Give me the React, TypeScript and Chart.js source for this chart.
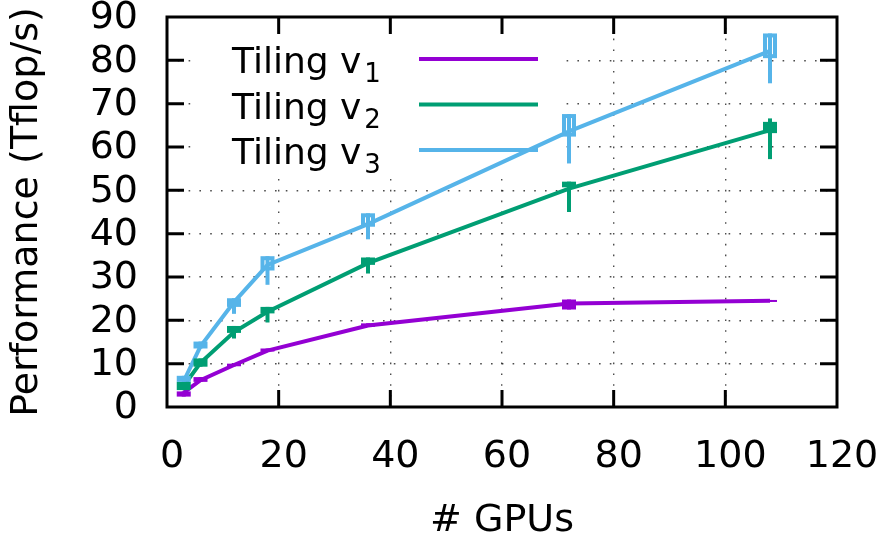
import React, { useEffect, useRef } from 'react';
import { Chart, registerables } from 'chart.js';

Chart.register(...registerables);

// ---- data ----
const gpus = [3, 6, 12, 18, 36, 72, 108];

const v1Perf = [3.3, 6.2, 9.7, 13.0, 18.8, 23.9, 24.5];
const v1Min = [2.4, 5.8, 9.4, 12.8, 18.5, 22.5, 24.3];
const v1BoxLow = [2.4, 5.8, 9.4, 12.8, 18.5, 22.5, 24.3];
const v1BoxHigh = [3.6, 6.9, 10.0, 13.5, 19.3, 24.8, 24.7];
const v1Max = [3.6, 6.9, 10.0, 13.5, 19.3, 24.8, 24.7];

const v2Perf = [4.9, 10.2, 17.3, 22.0, 33.2, 50.4, 63.9];
const v2Min = [3.9, 9.3, 15.8, 19.5, 30.8, 45.0, 57.2];
const v2BoxLow = [3.9, 9.3, 17.1, 21.6, 32.8, 50.7, 63.2];
const v2BoxHigh = [5.8, 11.2, 18.7, 23.1, 34.5, 52.0, 65.8];
const v2Max = [5.8, 11.2, 18.7, 23.1, 34.5, 52.0, 66.6];

const v3Perf = [6.0, 14.0, 24.2, 32.8, 42.2, 63.6, 82.2];
const v3Min = [5.8, 13.5, 21.5, 28.2, 38.7, 56.2, 74.7];
const v3BoxLow = [5.8, 13.5, 23.1, 31.5, 41.6, 62.4, 80.5];
const v3BoxHigh = [7.2, 15.1, 25.1, 34.8, 44.7, 67.6, 86.2];
const v3Max = [7.2, 15.1, 25.1, 34.8, 44.7, 67.6, 86.2];

const legendText = 'Tiling v';
const legendSubs = ['1', '2', '3'];
const xTitle = '# GPUs';
const yTitle = 'Performance (Tflop/s)';
const xMin = 0, xMax = 120, xStep = 20;
const yMin = 0, yMax = 90, yStep = 10;

// ---- style ----
const FONT = '"DejaVu Sans", sans-serif';
const COLORS = ['#9400d3', '#009e73', '#56b4e9'];

const series = [
  { perf: v1Perf, min: v1Min, bl: v1BoxLow, bh: v1BoxHigh, max: v1Max },
  { perf: v2Perf, min: v2Min, bl: v2BoxLow, bh: v2BoxHigh, max: v2Max },
  { perf: v3Perf, min: v3Min, bl: v3BoxLow, bh: v3BoxHigh, max: v3Max },
];

const framePlugin = {
  id: 'gnuFrame',
  beforeDatasetsDraw(chart: any) {
    const { ctx, chartArea: a } = chart;
    ctx.save();
    // opaque key box
    ctx.fillStyle = '#ffffff';
    ctx.fillRect(a.left + 25, a.top + 2, 369, 158);
    // key entries
    series.forEach((_, i) => {
      const ly = a.top + 42 + i * 45.5;
      ctx.fillStyle = '#000';
      ctx.textBaseline = 'alphabetic';
      ctx.textAlign = 'left';
      ctx.font = `36px ${FONT}`;
      const tx = a.left + 65;
      ctx.fillText(legendText, tx, ly + 14);
      const w = ctx.measureText(legendText).width;
      ctx.font = `26px ${FONT}`;
      ctx.fillText(legendSubs[i], tx + w + 3, ly + 23);
      ctx.strokeStyle = COLORS[i];
      ctx.lineWidth = 4;
      ctx.beginPath();
      ctx.moveTo(a.left + 252, ly);
      ctx.lineTo(a.left + 371, ly);
      ctx.stroke();
    });
    ctx.restore();
  },
  afterDatasetsDraw(chart: any) {
    const { ctx, chartArea: a } = chart;
    const xs = chart.scales.x;
    const ys = chart.scales.y;
    ctx.save();
    // candlestick boxes + whiskers
    series.forEach((s, i) => {
      ctx.strokeStyle = COLORS[i];
      ctx.fillStyle = COLORS[i];
      gpus.forEach((g, j) => {
        const px = xs.getPixelForValue(g);
        const yLo = ys.getPixelForValue(s.min[j]);
        const yHi = ys.getPixelForValue(s.max[j]);
        ctx.lineWidth = 4;
        ctx.lineCap = 'butt';
        ctx.beginPath();
        ctx.moveTo(px, yLo);
        ctx.lineTo(px, yHi);
        ctx.stroke();
        const b0 = ys.getPixelForValue(s.bh[j]);
        const b1 = ys.getPixelForValue(s.bl[j]);
        const hw = 7;
        const lw = 4;
        if (b1 - b0 <= 12) {
          ctx.fillRect(px - hw, b0, 2 * hw, Math.max(b1 - b0, 2));
        } else {
          ctx.lineWidth = lw;
          ctx.strokeRect(px - hw + lw / 2, b0 + lw / 2, 2 * hw - lw, b1 - b0 - lw);
        }
      });
    });
    // border
    ctx.strokeStyle = '#000';
    ctx.lineWidth = 3;
    ctx.lineCap = 'butt';
    ctx.strokeRect(a.left, a.top, a.right - a.left, a.bottom - a.top);
    // inward mirrored ticks
    const TL = 17;
    ctx.beginPath();
    xs.ticks.forEach((t: any) => {
      if (t.value <= xs.min || t.value >= xs.max) return;
      const p = xs.getPixelForValue(t.value);
      ctx.moveTo(p, a.bottom);
      ctx.lineTo(p, a.bottom - TL);
      ctx.moveTo(p, a.top);
      ctx.lineTo(p, a.top + TL);
    });
    ys.ticks.forEach((t: any) => {
      if (t.value <= ys.min || t.value >= ys.max) return;
      const p = ys.getPixelForValue(t.value);
      ctx.moveTo(a.left, p);
      ctx.lineTo(a.left + TL, p);
      ctx.moveTo(a.right, p);
      ctx.lineTo(a.right - TL, p);
    });
    ctx.stroke();
    ctx.restore();
  },
};

export default function App() {
  const ref = useRef<HTMLCanvasElement | null>(null);

  useEffect(() => {
    if (!ref.current) return;
    const gridColor = (min: number, max: number) => (c: any) =>
      c.tick && (c.tick.value <= min || c.tick.value >= max) ? 'rgba(0,0,0,0)' : 'rgba(0,0,0,0.7)';
    const chart = new Chart(ref.current, {
      type: 'line',
      data: {
        datasets: series.map((s, i) => ({
          label: legendText + legendSubs[i],
          data: gpus.map((g, j) => ({ x: g, y: s.perf[j] })),
          borderColor: COLORS[i],
          backgroundColor: COLORS[i],
          borderWidth: 4,
          pointRadius: 0,
          tension: 0,
          fill: false,
        })),
      },
      options: {
        animation: false,
        responsive: false,
        devicePixelRatio: 1,
        layout: { padding: { top: 17, right: 44, left: 0, bottom: 0 } },
        plugins: { legend: { display: false }, tooltip: { enabled: false } },
        scales: {
          x: {
            type: 'linear',
            min: xMin,
            max: xMax,
            ticks: {
              stepSize: xStep,
              autoSkip: false,
              maxRotation: 0,
              padding: 27,
              labelOffset: 5,
              color: '#000',
              font: { family: FONT, size: 38 },
            },
            grid: { drawTicks: false, lineWidth: 1.4, color: gridColor(xMin, xMax) },
            border: { display: false, dash: [1.6, 9.2] },
            title: {
              display: true,
              text: xTitle,
              color: '#000',
              font: { family: FONT, size: 38 },
              padding: 0,
            },
            afterFit(s: any) {
              s.height = 137;
              s.paddingLeft = 0;
              s.paddingRight = 0;
            },
          },
          y: {
            type: 'linear',
            min: yMin,
            max: yMax,
            ticks: {
              stepSize: yStep,
              autoSkip: false,
              padding: 29,
              labelOffset: 1.5,
              color: '#000',
              font: { family: FONT, size: 38 },
            },
            grid: { drawTicks: false, lineWidth: 1.4, color: gridColor(yMin, yMax) },
            border: { display: false, dash: [1.6, 9.2] },
            title: {
              display: true,
              text: yTitle,
              color: '#000',
              font: { family: FONT, size: 38 },
              padding: { top: 4, bottom: 0 },
            },
            afterFit(s: any) {
              s.width = 167;
              s.paddingTop = 0;
              s.paddingBottom = 0;
            },
          },
        },
      },
      plugins: [framePlugin],
    } as any);
    return () => chart.destroy();
  }, []);

  return (
    <div style={{ position: 'absolute', left: 0, top: 0, width: 881, height: 544, background: '#fff' }}>
      <canvas ref={ref} width={881} height={544} style={{ display: 'block' }} />
    </div>
  );
}
